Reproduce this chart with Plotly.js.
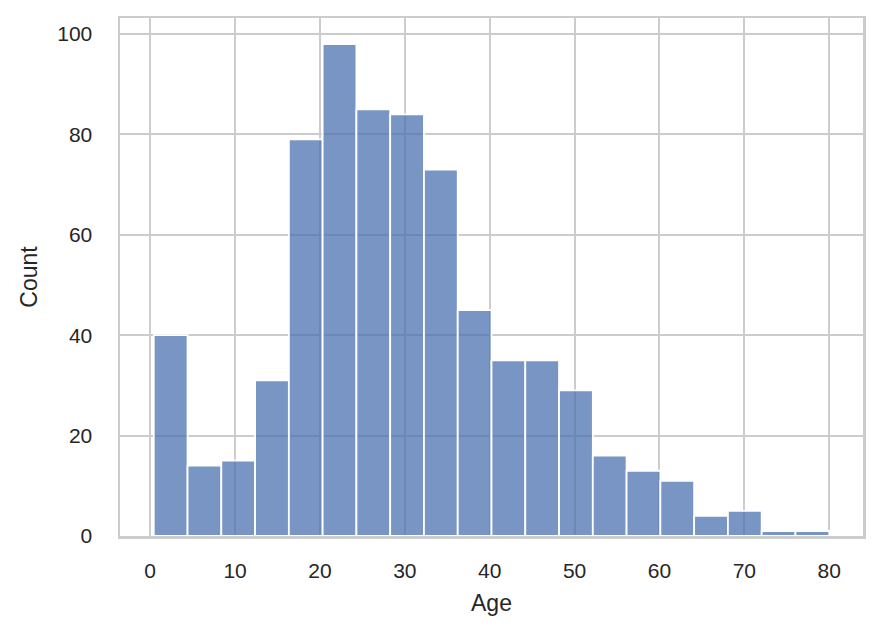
<!DOCTYPE html>
<html>
<head>
<meta charset="utf-8">
<script src="https://cdn.plot.ly/plotly-3.0.1.min.js"></script>
<style>
	body { margin: 0; background: white; }
	#chart { width: 882px; height: 638px; }
</style>
</head>
<body>
<div id="chart"></div>
<script>
// histogram of passenger ages, 20 bins between min and max age
const ageMin = 0.42
const ageMax = 80
const counts = [40, 14, 15, 31, 79, 98, 85, 84, 73, 45, 35, 35, 29, 16, 13, 11, 4, 5, 1, 1]
const xTicks = [0, 10, 20, 30, 40, 50, 60, 70, 80]
const yTicks = [0, 20, 40, 60, 80, 100]

const binWidth = (ageMax - ageMin) / counts.length
const centers = counts.map((_, i) => ageMin + binWidth * (i + 0.5))

const pad = (ageMax - ageMin) * 0.05
const yMax = Math.max(...counts) * 1.053

const fontFamily = "Liberation Sans, Arial, sans-serif"

var trace = {
	type: "bar",
	x: centers,
	y: counts,
	width: binWidth,
	marker: {
		color: "rgba(76,114,176,0.75)",
		line: { color: "white", width: 1.8 }
	},
	hoverinfo: "skip"
}

var axisCommon = {
	showgrid: true,
	gridcolor: "#cccccc",
	gridwidth: 2,
	zeroline: false,
	showline: true,
	linecolor: "#cccccc",
	linewidth: 2.5,
	mirror: true,
	ticks: "",
	tickfont: { family: fontFamily, size: 21, color: "#262626" }
}

var layout = {
	width: 882,
	height: 638,
	margin: { l: 120, r: 19, t: 18, b: 102, pad: 0 },
	paper_bgcolor: "white",
	plot_bgcolor: "white",
	showlegend: false,
	bargap: 0,
	xaxis: Object.assign({}, axisCommon, {
		range: [ageMin - pad, ageMax + pad],
		tickvals: xTicks,
		ticklabelstandoff: 14,
		title: {
			text: "Age",
			standoff: 14,
			font: { family: fontFamily, size: 23, color: "#262626" }
		}
	}),
	yaxis: Object.assign({}, axisCommon, {
		range: [0, yMax],
		tickvals: yTicks,
		ticklabelstandoff: 21,
		title: {
			text: "Count",
			standoff: 13,
			font: { family: fontFamily, size: 23, color: "#262626" }
		}
	})
}

Plotly.newPlot("chart", [trace], layout, { displayModeBar: false, staticPlot: true })
</script>
</body>
</html>
